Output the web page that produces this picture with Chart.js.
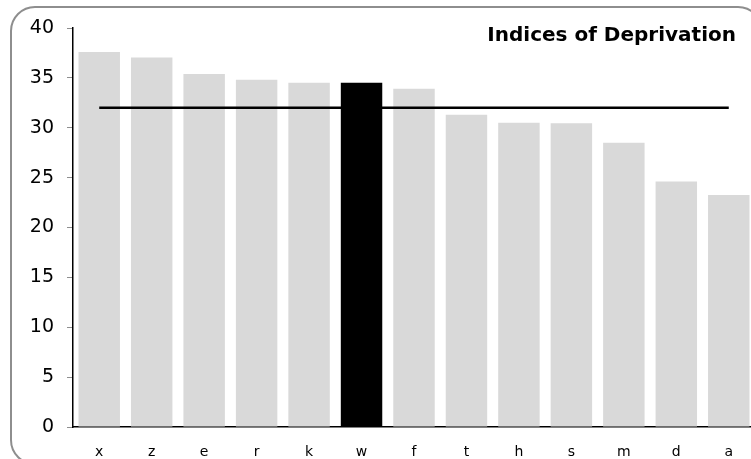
<!DOCTYPE html>
<html>
<head>
<meta charset="utf-8">
<script src="https://cdn.jsdelivr.net/npm/chart.js@4"></script>
<style>
  html, body { margin: 0; padding: 0; background: #fff; overflow: hidden; }
  #wrap { width: 751px; height: 459px; overflow: hidden; }
</style>
</head>
<body>
<div id="wrap"><canvas id="chart" width="760" height="459"></canvas></div>
<script>
const categories = ['x', 'z', 'e', 'r', 'k', 'w', 'f', 't', 'h', 's', 'm', 'd', 'a'];
const scores = [37.6, 37.05, 35.4, 34.8, 34.5, 34.5, 33.9, 31.3, 30.5, 30.45, 28.5, 24.6, 23.25];
const average = 32;
const highlighted = 'w';
const yTicks = [0, 5, 10, 15, 20, 25, 30, 35, 40];
const chartTitle = 'Indices of Deprivation';

const FONT = '"DejaVu Sans", Verdana, sans-serif';

// rounded frame + title drawn on the canvas
const framePlugin = {
  id: 'frame',
  beforeDraw(chart) {
    const ctx = chart.ctx;
    ctx.save();
    ctx.strokeStyle = '#8e8e8e';
    ctx.lineWidth = 2;
    ctx.beginPath();
    ctx.roundRect(11, 7, 751, 457, 24);
    ctx.stroke();
    ctx.restore();
  },
  afterDraw(chart) {
    const ctx = chart.ctx;
    ctx.save();
    ctx.font = 'bold 20px ' + FONT;
    ctx.fillStyle = '#000';
    ctx.textAlign = 'right';
    ctx.textBaseline = 'middle';
    ctx.fillText(chartTitle, 736, 36);
    ctx.restore();
  }
};

new Chart(document.getElementById('chart'), {
  data: {
    labels: categories,
    datasets: [
      {
        type: 'line',
        data: categories.map(() => average),
        borderColor: '#000',
        borderWidth: 2.5,
        pointRadius: 0,
        order: 0
      },
      {
        type: 'bar',
        data: scores,
        backgroundColor: categories.map(c => c === highlighted ? '#000' : '#d9d9d9'),
        barPercentage: 0.79,
        categoryPercentage: 1,
        order: 1
      }
    ]
  },
  options: {
    responsive: false,
    animation: false,
    layout: { padding: { top: 28, right: 5, left: 0, bottom: 0 } },
    plugins: { legend: { display: false }, tooltip: { enabled: false } },
    scales: {
      x: {
        grid: { display: true, drawOnChartArea: false, drawTicks: false },
        border: { color: '#000', width: 1.5 },
        ticks: { color: '#000', font: { family: FONT, size: 14 }, padding: 17 },
        afterFit: s => { s.height = 32; }
      },
      y: {
        min: 0,
        max: 40,
        afterBuildTicks: s => { s.ticks = yTicks.map(v => ({ value: v })); },
        grid: { display: true, drawOnChartArea: false, tickLength: 6, color: '#8e8e8e' },
        border: { color: '#000', width: 1.5 },
        ticks: { color: '#000', font: { family: FONT, size: 19 }, padding: 13 },
        afterFit: s => { s.width = 73; }
      }
    }
  },
  plugins: [framePlugin]
});
</script>
</body>
</html>
